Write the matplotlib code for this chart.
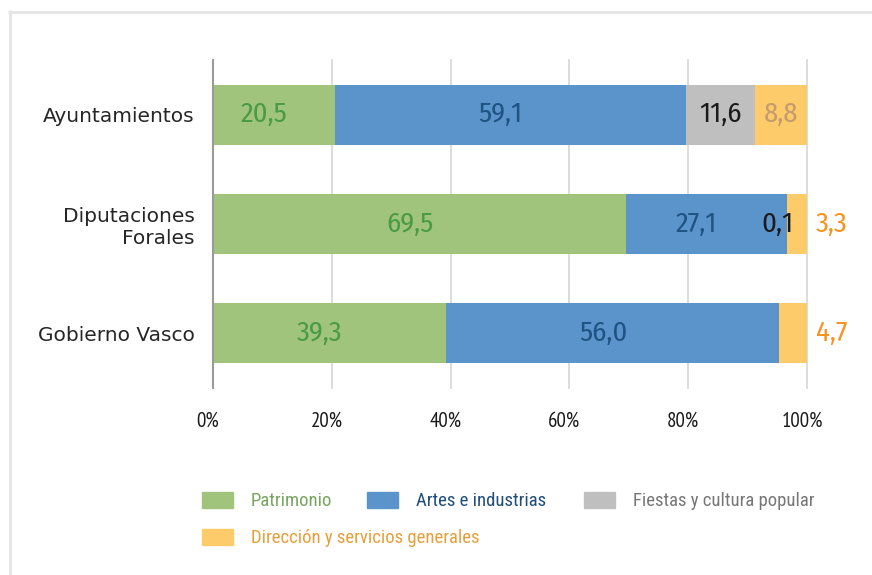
import matplotlib
matplotlib.use("Agg")
from matplotlib import pyplot as plt
from matplotlib.lines import Line2D
from matplotlib.patches import Rectangle
import numpy as np

# data (percent of spending by area)
entities = ["Ayuntamientos", "Diputaciones\nForales", "Gobierno Vasco"]
series = ["Patrimonio", "Artes e industrias", "Fiestas y cultura popular",
          "Dirección y servicios generales"]
patrimonio = [20.5, 69.5, 39.3]
artes = [59.1, 27.1, 56.0]
fiestas = [11.6, 0.1, 0.0]
direccion = [8.8, 3.3, 4.7]
ticks = [0, 20, 40, 60, 80, 100]

bar_colors = ["#a0c47b", "#5b94ca", "#bfbfbf", "#fdcb69"]
label_colors = ["#4a9a46", "#1f5384", "#1a1a1a", "#c49b6c"]
legend_colors = ["#77a45f", "#1f4e79", "#777777", "#e69f3b"]
outside_color = "#f7931e"

W, H = 872, 575
fig = plt.figure(figsize=(W / 100, H / 100), dpi=100)
ax = fig.add_axes([213 / W, 1 - 388 / H, (807 - 213) / W, (388 - 60) / H])

lab_font = ["Fira Sans Condensed", "DejaVu Sans"]
leg_font = ["Roboto Condensed", "DejaVu Sans"]
tick_font = ["PT Sans Narrow", "DejaVu Sans"]

values = [patrimonio, artes, fiestas, direccion]
y = np.arange(len(entities))
left = np.zeros(len(entities))
for s, vals in enumerate(values):
    vals = np.array(vals)
    ax.barh(y, vals, left=left, height=0.55, color=bar_colors[s], zorder=2)
    for i, v in enumerate(vals):
        if v <= 0:
            continue
        txt = f"{v:.1f}".replace(".", ",")
        if s == 3 and v < 5:
            # small management share: label outside the bar
            ax.annotate(txt, (100, i), xytext=(6.5, 0),
                        textcoords="offset points", ha="left", va="center",
                        fontsize=20.5, color=outside_color, family=lab_font)
            continue
        dx = -7 if (v > 15 or v < 1) else 0
        ax.annotate(txt, (left[i] + v / 2, i), xytext=(dx, 0),
                    textcoords="offset points", ha="center", va="center",
                    fontsize=20.5, color=label_colors[s], family=lab_font, zorder=3)
    left = left + vals

ax.set_xlim(0, 100)
ax.set_ylim(2.5, -0.5)
ax.set_xticks(ticks)
ax.set_xticklabels([])
# percent labels, drawn slightly left of the gridlines as in the original
for t in ticks:
    ax.annotate(f"{t}%", (t, 0), xycoords=ax.get_xaxis_transform(),
                xytext=(-3.6, -24), textcoords="offset points",
                ha="center", va="center", fontsize=15, color="#1a1a1a",
                family=tick_font, annotation_clip=False)
ax.set_yticks(y)
ax.set_yticklabels(entities, fontsize=14.5, color="#262626",
                   family="DejaVu Sans", multialignment="right")
ax.tick_params(axis="x", length=0)
ax.tick_params(axis="y", length=0, pad=13)
ax.grid(axis="x", color="#d9d9d9", linewidth=1.3)
ax.set_axisbelow(True)
for l in ax.get_xgridlines():
    l.set_clip_on(False)
for side in ["top", "right", "bottom"]:
    ax.spines[side].set_visible(False)
ax.spines["left"].set_color("#9a9a9a")
ax.spines["left"].set_linewidth(1.5)
ax.spines["left"].set_zorder(4)

# legend drawn by hand to follow the original layout
entries = [(202, 500), (367, 500), (584, 500), (202, 537)]
for k, (px, py) in enumerate(entries):
    fig.add_artist(Rectangle((px / W, 1 - (py + 8) / H), 31 / W, 16 / H,
                             transform=fig.transFigure, color=bar_colors[k]))
    fig.text((px + 49) / W, 1 - (py + 1) / H, series[k], ha="left", va="center",
             fontsize=13.5, color=legend_colors[k], family=leg_font)

# light frame
fig.add_artist(Line2D([8 / W, 1], [1 - 11.5 / H, 1 - 11.5 / H],
                      transform=fig.transFigure, color="#e6e6e6", linewidth=2.2,
                      solid_capstyle="butt"))
fig.add_artist(Line2D([9.5 / W, 9.5 / W], [1 - 10 / H, 0],
                      transform=fig.transFigure, color="#e6e6e6", linewidth=2.2,
                      solid_capstyle="butt"))

fig.savefig("out.png", dpi=100)
